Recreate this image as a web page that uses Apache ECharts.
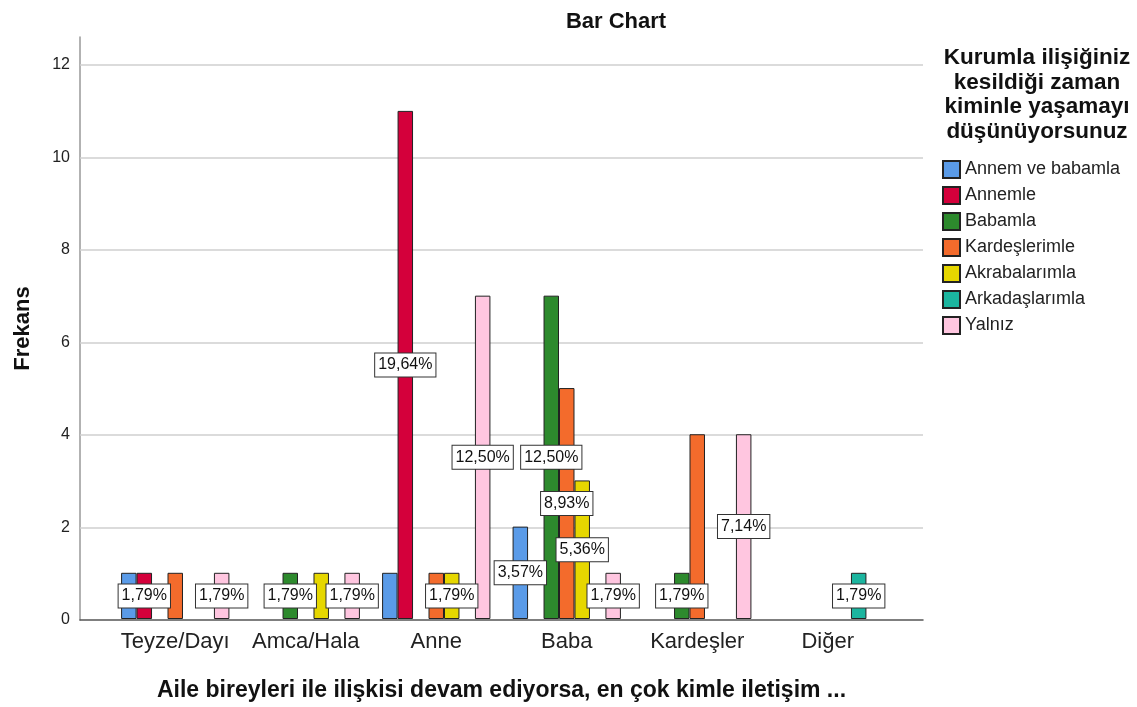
<!DOCTYPE html>
<html>
<head>
<meta charset="utf-8">
<script src="https://cdn.jsdelivr.net/npm/echarts@6/dist/echarts.min.js"></script>
<style>
    html, body { margin: 0; padding: 0; background: #fff; }
    #chart { width: 1137px; height: 707px; }
</style>
</head>
<body>
<div id="chart"></div>
<script>
var categories = ['Teyze/Dayı', 'Amca/Hala', 'Anne', 'Baba', 'Kardeşler', 'Diğer'];
var seriesNames = ['Annem ve babamla', 'Annemle', 'Babamla', 'Kardeşlerimle', 'Akrabalarımla', 'Arkadaşlarımla', 'Yalnız'];
var annemVeBabamla = [1, 0, 1, 2, 0, 0];
var annemle        = [1, 0, 11, 0, 0, 0];
var babamla        = [0, 1, 0, 7, 1, 0];
var kardeslerimle  = [1, 0, 1, 5, 4, 0];
var akrabalarimla  = [0, 1, 1, 3, 0, 0];
var arkadaslarimla = [0, 0, 0, 0, 0, 1];
var yalniz         = [1, 1, 7, 1, 4, 0];
var yTicks = [0, 2, 4, 6, 8, 10, 12];
// labels that spss left out because they overlap: [series, category]
var hiddenLabels = [[0, 0], [3, 0], [4, 1], [0, 2], [3, 2], [3, 4]];

var colors = ['#5a9be8', '#d4003b', '#2d8a2d', '#f36b2c', '#e6d700', '#1bb59f', '#ffc6e0'];
var font = '"Liberation Sans", Arial, sans-serif';
var allValues = [annemVeBabamla, annemle, babamla, kardeslerimle, akrabalarimla, arkadaslarimla, yalniz];

var total = 0;
allValues.forEach(function (arr) {
    arr.forEach(function (v) { total += v; });
});

function isHidden(s, c) {
    return hiddenLabels.some(function (p) { return p[0] == s && p[1] == c; });
}

var yMax = 12.6;

var series = [];
// gridlines, drawn in the wide frame grid
series.push({
    name: '',
    type: 'line',
    xAxisIndex: 0,
    yAxisIndex: 0,
    data: [],
    z: 1,
    markLine: {
        symbol: 'none',
        silent: true,
        label: { show: false },
        lineStyle: { color: '#cfcfcf', type: 'solid', width: 1.5 },
        data: yTicks.filter(function (v) { return v > 0; }).map(function (v) { return { yAxis: v }; })
    }
});

allValues.forEach(function (arr, s) {
    series.push({
        name: seriesNames[s],
        type: 'bar',
        xAxisIndex: 1,
        yAxisIndex: 1,
        z: 5,
        barGap: '0%',
        barCategoryGap: '17%',
        itemStyle: { color: colors[s], borderColor: '#222', borderWidth: 1 },
        label: {
            show: true,
            position: 'inside',
            fontFamily: font,
            fontSize: 16,
            color: '#111',
            backgroundColor: '#fff',
            borderColor: '#333',
            borderWidth: 1,
            padding: [4, 3, 3, 3],
            formatter: function (p) {
                return (p.value / total * 100).toFixed(2).replace('.', ',') + '%';
            }
        },
        data: arr.map(function (v, c) {
            if (v == 0) return '-';
            return isHidden(s, c) ? { value: v, label: { show: false } } : v;
        })
    });
});

var option = {
    animation: false,
    backgroundColor: '#fff',
    title: [
        {
            text: 'Bar Chart',
            left: 611, top: 6, textAlign: 'center',
            textStyle: { fontFamily: font, fontSize: 22, fontWeight: 'bold', color: '#111' }
        },
        {
            text: 'Kurumla ilişiğiniz\nkesildiği zaman\nkiminle yaşamayı\ndüşünüyorsunuz',
            left: 1032, top: 41, textAlign: 'center',
            textStyle: { fontFamily: font, fontSize: 22.5, fontWeight: 'bold', color: '#111', lineHeight: 24.5 }
        }
    ],
    legend: {
        data: seriesNames,
        orient: 'vertical',
        left: 937, top: 155,
        itemWidth: 17, itemHeight: 17,
        itemGap: 7,
        icon: 'rect',
        textStyle: { fontFamily: font, fontSize: 18, color: '#222' }
    },
    grid: [
        { left: 80, right: 214, top: 37, bottom: 87 },
        { left: 110, right: 244, top: 37, bottom: 87 }
    ],
    xAxis: [
        {
            type: 'value', gridIndex: 0, min: 0, max: 1,
            axisLine: { show: true, lineStyle: { color: '#555', width: 1.5 } },
            axisTick: { show: false }, axisLabel: { show: false }, splitLine: { show: false }
        },
        {
            type: 'category', gridIndex: 1, data: categories,
            axisLine: { show: false }, axisTick: { show: false },
            axisLabel: { fontFamily: font, fontSize: 22, color: '#222', margin: 12, interval: 0 },
            name: 'Aile bireyleri ile ilişkisi devam ediyorsa, en çok kimle iletişim ...',
            nameLocation: 'middle', nameGap: 60,
            nameTextStyle: { fontFamily: font, fontSize: 23, fontWeight: 'bold', color: '#111' }
        }
    ],
    yAxis: [
        {
            type: 'value', gridIndex: 0, min: 0, max: yMax, interval: 2,
            axisLine: { show: true, lineStyle: { color: '#999', width: 1.5 } },
            axisTick: { show: false },
            splitLine: { show: false },
            axisLabel: {
                fontFamily: font, fontSize: 16, color: '#222', margin: 10,
                formatter: function (v) { return yTicks.indexOf(v) >= 0 ? v : ''; }
            },
            name: 'Frekans', nameLocation: 'middle', nameGap: 46,
            nameTextStyle: { fontFamily: font, fontSize: 22, fontWeight: 'bold', color: '#111' }
        },
        { type: 'value', gridIndex: 1, min: 0, max: yMax, show: false }
    ],
    series: series
};

var chart = echarts.init(document.getElementById('chart'));
chart.setOption(option);
</script>
</body>
</html>
